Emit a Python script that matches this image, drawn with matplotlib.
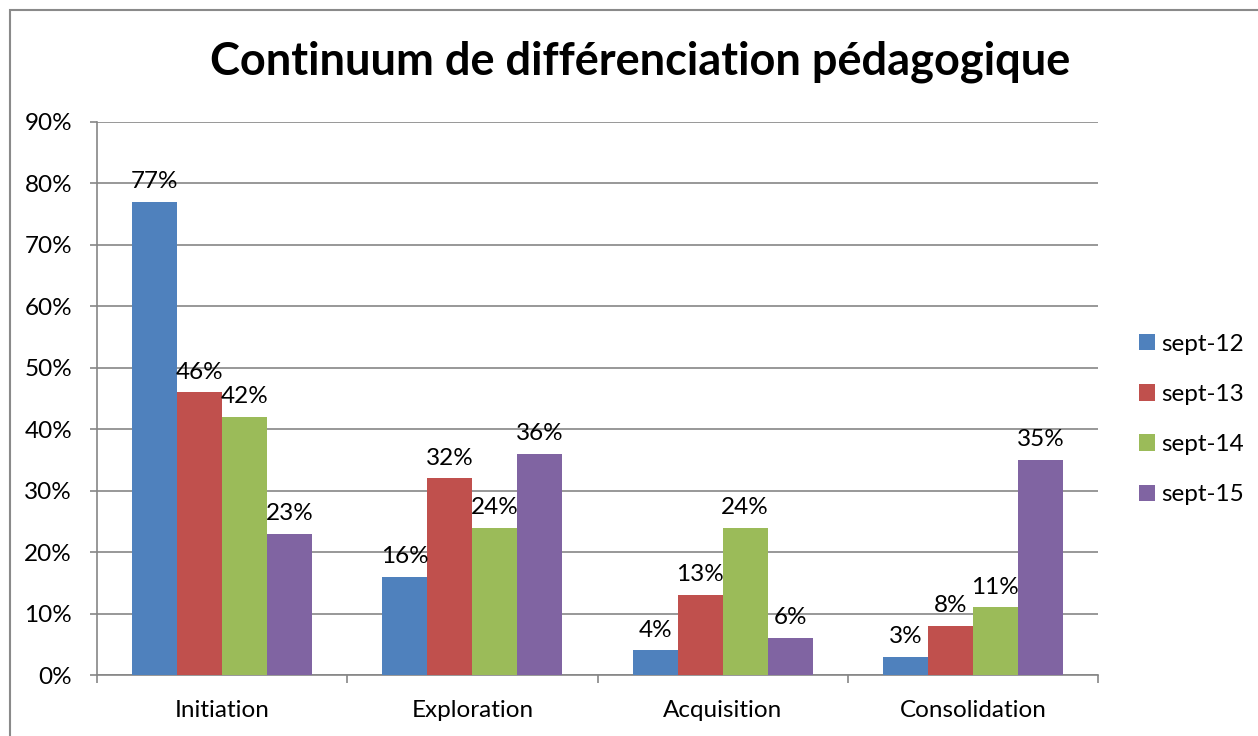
import matplotlib
matplotlib.use("Agg")
import matplotlib.pyplot as plt
import numpy as np
from matplotlib.patches import Rectangle
from matplotlib.ticker import FuncFormatter

categories = ["Initiation", "Exploration", "Acquisition", "Consolidation"]
series_names = ["sept-12", "sept-13", "sept-14", "sept-15"]
sept12 = [77, 16, 4, 3]
sept13 = [46, 32, 13, 8]
sept14 = [42, 24, 24, 11]
sept15 = [23, 36, 6, 35]
colors = ["#4F81BD", "#C0504D", "#9BBB59", "#8064A2"]
title = "Continuum de différenciation pédagogique"

plt.rcParams['font.family'] = ['Lato', 'DejaVu Sans']

W, H = 1258, 736
fig = plt.figure(figsize=(W / 100, H / 100), dpi=100)
ax = fig.add_axes([97 / W, 1 - 675 / H, (1098 - 97) / W, (675 - 122) / H])

FS = 17.5
data = [sept12, sept13, sept14, sept15]
x = np.arange(len(categories))
bw = 0.18
for i, (vals, name, c) in enumerate(zip(data, series_names, colors)):
    pos = x + (i - 1.5) * bw
    bars = ax.bar(pos, vals, width=bw, color=c, label=name, zorder=3)
    ax.bar_label(bars, labels=[f"{v}%" for v in vals], padding=7, fontsize=FS, zorder=4)

ax.set_xlim(-0.5, len(categories) - 0.5)
ax.set_ylim(0, 90)
ax.set_yticks(np.arange(0, 91, 10))
ax.yaxis.set_major_formatter(FuncFormatter(lambda v, p: f"{int(v)}%"))
ax.set_xticks(x)
ax.set_xticklabels(categories)
ax.set_xticks(np.arange(-0.5, len(categories), 1), minor=True)
ax.tick_params(axis='x', which='major', length=0, pad=18, labelsize=FS)
ax.tick_params(axis='x', which='minor', length=6, width=1.2, color="#868686", direction='out')
ax.tick_params(axis='y', length=5, width=1.2, color="#868686", pad=13, labelsize=FS)
ax.grid(axis='y', color="#868686", linewidth=1.2, zorder=0)
for s in ['top', 'right']:
    ax.spines[s].set_visible(False)
for s in ['left', 'bottom']:
    ax.spines[s].set_color("#868686")
    ax.spines[s].set_linewidth(1.2)

ax.legend(loc='center left', bbox_to_anchor=(1.019, 0.462), frameon=False, fontsize=FS,
          handlelength=0.65, handleheight=0.65, labelspacing=1.2, handletextpad=0.25)

fig.text(640 / W, 1 - 62 / H, title, ha='center', va='center', fontsize=32.5, fontweight='bold')

fig.patches.append(Rectangle((10 / W, -0.1), 1.2, 1.1 - 10 / H, transform=fig.transFigure,
                             fill=False, edgecolor="#8a8a8a", linewidth=1.5, clip_on=False))

fig.savefig("out.png", dpi=100)
